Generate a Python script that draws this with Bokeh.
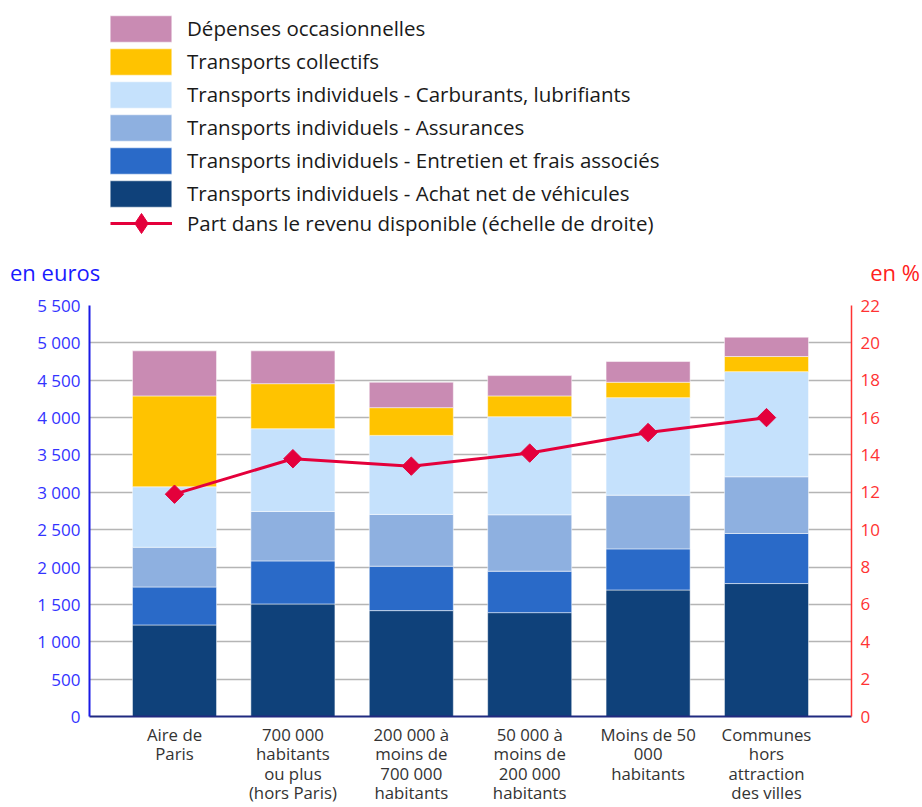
from bokeh.plotting import figure
from bokeh.layouts import column
from bokeh.models import (Range1d, LinearAxis, FixedTicker, Legend, LegendItem,
                          ColumnDataSource, Div)
from bokeh.embed import file_html
from bokeh.resources import INLINE
import math

# ---------------- data ----------------
categories = ["Aire de\nParis",
              "700 000\nhabitants\nou plus\n(hors Paris)",
              "200 000 à\nmoins de\n700 000\nhabitants",
              "50 000 à\nmoins de\n200 000\nhabitants",
              "Moins de 50\n000\nhabitants",
              "Communes\nhors\nattraction\ndes villes"]
achat = [1225, 1506, 1417, 1390, 1693, 1779]
entretien = [508, 576, 594, 554, 550, 670]
assurances = [532, 662, 693, 755, 719, 759]
carburants = [809, 1107, 1058, 1313, 1305, 1407]
collectifs = [1216, 603, 371, 278, 206, 202]
occasionnelles = [603, 439, 340, 272, 277, 259]
part = [11.9, 13.8, 13.4, 14.1, 15.2, 16.0]

series_names = ["Transports individuels - Achat net de véhicules",
                "Transports individuels - Entretien et frais associés",
                "Transports individuels - Assurances",
                "Transports individuels - Carburants, lubrifiants",
                "Transports collectifs",
                "Dépenses occasionnelles"]
line_name = "Part dans le revenu disponible (échelle de droite)"
left_title = "en euros"
right_title = "en %"
y_ticks = list(range(0, 5501, 500))
y2_ticks = list(range(0, 23, 2))

colors = ["#0f417a", "#2a6ac8", "#8eb0e0", "#c5e1fc", "#ffc300", "#c98bb3"]
red = "#e4003b"

xs = list(range(len(categories)))
keys = ["achat", "entretien", "assurances", "carburants", "collectifs", "occasionnelles"]
src = ColumnDataSource(dict(x=xs, achat=achat, entretien=entretien, assurances=assurances,
                            carburants=carburants, collectifs=collectifs,
                            occasionnelles=occasionnelles, part=part))

W = 922
LEG_H = 250
DIV_H = 40
MAIN_H = 517

# ---------------- main chart ----------------
p = figure(width=W, height=MAIN_H, output_backend="svg", toolbar_location=None,
           x_range=Range1d(-0.718, 5.718), y_range=Range1d(0, 5500),
           min_border_left=89, min_border_right=71, min_border_top=15,
           min_border_bottom=91)
p.extra_y_ranges = {"pct": Range1d(0, 22)}
p.outline_line_color = None
p.background_fill_color = "white"
p.xgrid.visible = False
p.ygrid.ticker = FixedTicker(ticks=y_ticks)
p.ygrid.grid_line_color = "#b5b5b5"
p.ygrid.grid_line_width = 1.5

bars = p.vbar_stack(keys, x="x", width=0.71, color=colors, source=src,
                    line_color="white", line_alpha=0.5, line_width=1)
ln = p.line("x", "part", source=src, y_range_name="pct", line_color=red, line_width=3)
sc = p.scatter("x", "part", source=src, y_range_name="pct", marker="square",
               angle=math.pi / 4, size=13, fill_color=red, line_color=red)

# left axis
la = p.yaxis[0]
la.ticker = FixedTicker(ticks=y_ticks)
la.major_label_overrides = {t: f"{t:,}".replace(",", " ") for t in y_ticks}
la.axis_line_color = "#1a1ae6"
la.axis_line_width = 2
la.major_tick_line_color = None
la.minor_tick_line_color = None
la.major_tick_out = 0
la.minor_tick_out = 0
la.major_label_text_color = "#3333ff"
la.major_label_text_font = "Open Sans"
la.major_label_text_font_size = "17px"
la.major_label_standoff = 9

# right axis
ra = LinearAxis(y_range_name="pct", ticker=FixedTicker(ticks=y2_ticks))
ra.axis_line_color = "#ff3333"
ra.axis_line_width = 1.5
ra.major_tick_line_color = None
ra.minor_tick_line_color = None
ra.major_tick_out = 0
ra.minor_tick_out = 0
ra.major_label_text_color = "#ff3333"
ra.major_label_text_font = "Open Sans"
ra.major_label_text_font_size = "17px"
ra.major_label_standoff = 9
p.add_layout(ra, "right")

# bottom axis
ba = p.xaxis[0]
ba.ticker = FixedTicker(ticks=xs)
ba.major_label_overrides = {i: c for i, c in enumerate(categories)}
ba.axis_line_color = "#202a80"
ba.axis_line_width = 2
ba.major_tick_line_color = None
ba.minor_tick_line_color = None
ba.major_tick_out = 0
ba.minor_tick_out = 0
ba.major_label_text_color = "#333333"
ba.major_label_text_font = "Open Sans"
ba.major_label_text_font_size = "16.8px"
ba.major_label_text_line_height = 0.85
ba.major_label_standoff = 6

# ---------------- legend strip ----------------
# (its frame is aligned with the main chart's frame: x 89..851 in page pixels)
t = figure(width=W, height=LEG_H, output_backend="svg", toolbar_location=None,
           x_range=Range1d(0, 1), y_range=Range1d(0, 1),
           x_axis_location=None, y_axis_location=None,
           min_border_left=89, min_border_right=71, min_border_top=0, min_border_bottom=0)
t.outline_line_color = None
t.grid.visible = False

# off-screen proxies for legend swatches
leg_bars = [t.vbar(x=[-5], top=[-5], bottom=[-6], width=1, fill_color=c,
                   line_color="white", line_alpha=0.5) for c in colors]
leg_ln = t.line(x=[-5, -4], y=[-5, -5], line_color=red, line_width=3)
leg_sc = t.scatter(x=[-5], y=[-5], marker="diamond", size=20,
                   fill_color=red, line_color=red)

items = [LegendItem(label=series_names[i], renderers=[leg_bars[i]]) for i in range(5, -1, -1)]
common = dict(border_line_color=None, background_fill_alpha=0, padding=0, margin=0,
              label_text_font="Open Sans", label_text_font_size="20.5px",
              label_text_color="#1a1a1a")
leg1 = Legend(items=items, location=(13, LEG_H - 209.5), glyph_width=77, glyph_height=33,
              label_height=33, spacing=0, label_standoff=8, **common)
leg2 = Legend(items=[LegendItem(label=line_name, renderers=[leg_ln, leg_sc])],
              location=(21, LEG_H - 248), glyph_width=62, glyph_height=50,
              label_height=50, label_standoff=15, **common)
t.add_layout(leg1)
t.add_layout(leg2)

# ---------------- axis titles ----------------
d = Div(width=W, height=DIV_H, margin=(0, 0, 0, 0), text=(
    "<div style=\"position:relative;width:922px;height:40px;font-family:'Open Sans';"
    "font-size:22px;line-height:30px;\">"
    f"<span style=\"position:absolute;left:10px;top:7px;color:#1a1aff;\">{left_title}</span>"
    f"<span style=\"position:absolute;right:2px;top:7px;color:#ff2020;\">{right_title}</span>"
    "</div>"))

layout = column(t, d, p, spacing=0)
open("out.html", "w").write(file_html(layout, INLINE))
